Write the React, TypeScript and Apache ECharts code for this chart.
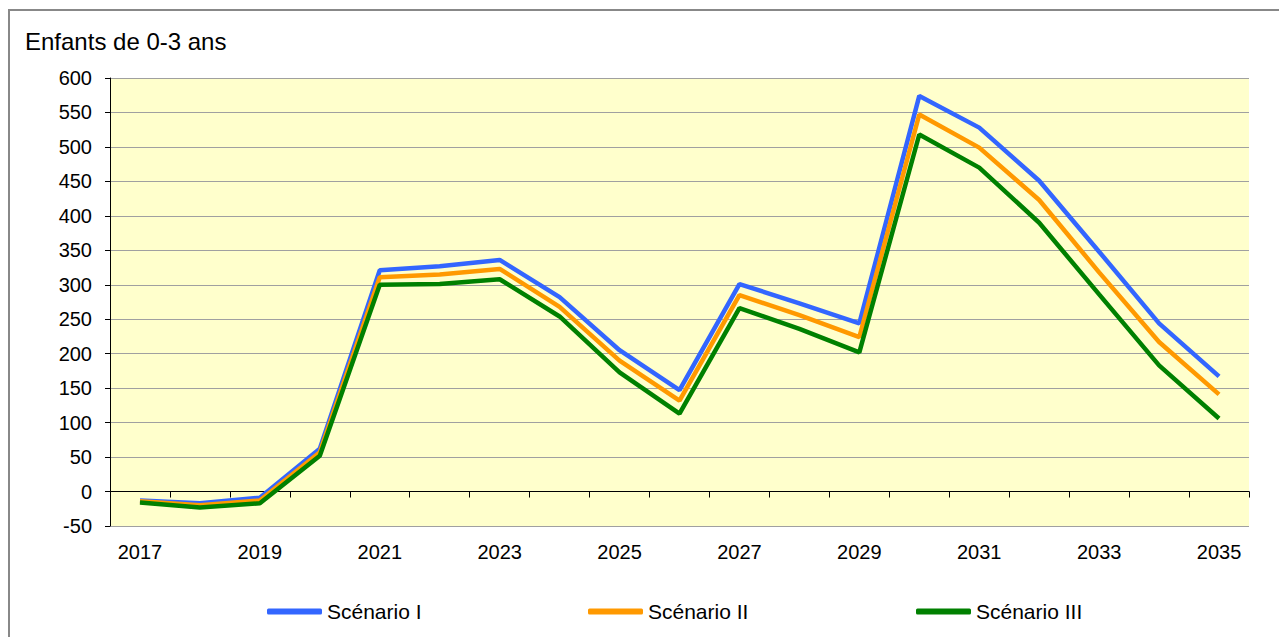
import React, { useEffect, useRef } from "react";
import * as echarts from "echarts";

const years = ["2017","2018","2019","2020","2021","2022","2023","2024","2025","2026","2027","2028","2029","2030","2031","2032","2033","2034","2035"];
const scenarioI = [-13, -17, -9, 62, 321, 327, 336, 282, 205, 147, 301, 273, 244, 574, 528, 451, 348, 244, 167];
const scenarioII = [-14, -20, -13, 57, 311, 315, 323, 268, 190, 132, 285, 256, 224, 547, 499, 423, 318, 217, 141];
const scenarioIII = [-16, -23, -17, 52, 300, 301, 308, 254, 173, 113, 266, 236, 202, 518, 470, 390, 286, 183, 106];
const seriesNames = ["Scénario I", "Scénario II", "Scénario III"];
const seriesColors = ["#3366FF", "#FF9900", "#008000"];
const titleText = "Enfants de 0-3 ans";

const FONT = "'Liberation Sans', Arial, sans-serif";

export default function App() {
  const ref = useRef<HTMLDivElement>(null);
  useEffect(() => {
    if (!ref.current) return;
    const chart = echarts.init(ref.current, null, { renderer: "svg" });
    const values = [scenarioI, scenarioII, scenarioIII];
    const legendLefts = [262, 583, 911];
    chart.setOption({
      animation: false,
      backgroundColor: "#ffffff",
      title: {
        text: titleText,
        left: 20,
        top: 24,
        textStyle: { fontFamily: FONT, fontSize: 24, fontWeight: "normal", color: "#000" },
      },
      legend: seriesNames.map((n, i) => ({
        data: [{ name: n, icon: "roundRect" }],
        left: legendLefts[i],
        top: 596,
        itemWidth: 55,
        itemHeight: 6,
        itemGap: 0,
        textStyle: { fontFamily: FONT, fontSize: 21, color: "#000" },
      })),
      grid: {
        left: 110,
        right: 30,
        top: 78,
        bottom: 111,
        show: true,
        backgroundColor: "#FFFFCC",
        borderWidth: 0,
      },
      xAxis: [
        {
          type: "category",
          data: years,
          boundaryGap: true,
          axisLine: { onZero: true, lineStyle: { color: "#000", width: 1 } },
          axisTick: { show: true, interval: 0, length: 6, inside: false, lineStyle: { color: "#000" } },
          axisLabel: { show: false },
          splitLine: { show: false },
        },
        {
          type: "category",
          data: years,
          position: "bottom",
          boundaryGap: true,
          axisLine: { show: false, onZero: false },
          axisTick: { show: false },
          axisLabel: { interval: 1, margin: 16, fontFamily: FONT, fontSize: 20, color: "#000" },
          splitLine: { show: false },
        },
      ],
      yAxis: {
        type: "value",
        min: -50,
        max: 600,
        interval: 50,
        axisLine: { show: true, lineStyle: { color: "#000", width: 1 } },
        axisTick: { show: true, length: 5, lineStyle: { color: "#000" } },
        axisLabel: { margin: 18, fontFamily: FONT, fontSize: 20, color: "#000" },
        splitLine: { show: true, lineStyle: { color: "#A0A0A0", width: 1 } },
      },
      graphic: [
        {
          type: "rect",
          shape: { x: 9, y: 10, width: 1400, height: 800 },
          style: { fill: "none", stroke: "#888888", lineWidth: 2 },
          silent: true,
        },
      ],
      series: seriesNames.map((n, i) => ({
        name: n,
        type: "line",
        xAxisIndex: 0,
        data: values[i],
        symbol: "none",
        showSymbol: false,
        color: seriesColors[i],
        lineStyle: { color: seriesColors[i], width: 4.5 },
      })),
    });
    return () => chart.dispose();
  }, []);
  return (
    <div
      ref={ref}
      style={{ position: "absolute", left: 0, top: 0, width: 1279, height: 637 }}
    />
  );
}
